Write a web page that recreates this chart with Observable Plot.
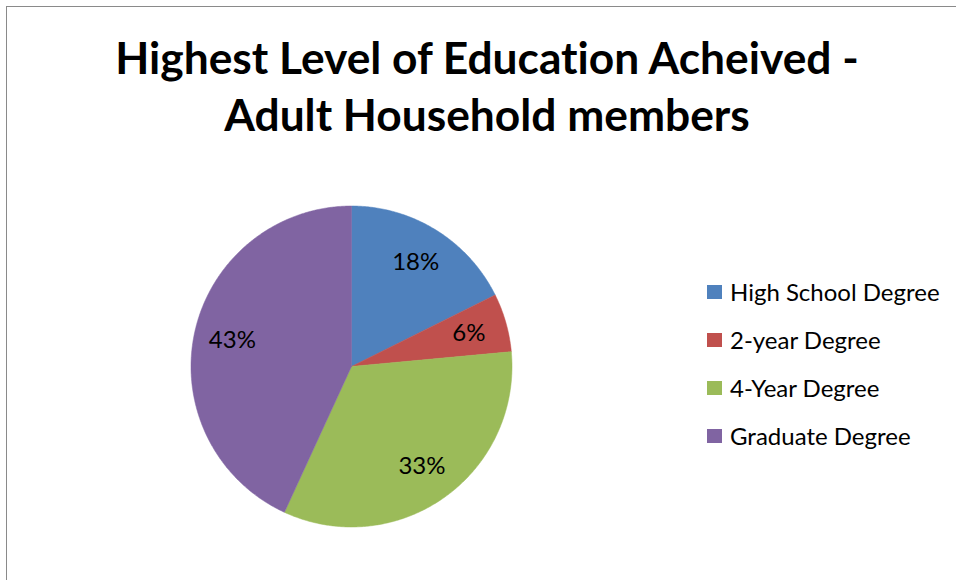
<!DOCTYPE html>
<html><head><meta charset="utf-8">
<script src="https://cdn.jsdelivr.net/npm/d3@7"></script>
<script src="https://cdn.jsdelivr.net/npm/@observablehq/plot@0.6"></script>
<style>
body{margin:0;background:#fff;}
#chart{position:relative;width:956px;height:580px;overflow:hidden;font-family:Lato, "Open Sans", sans-serif;color:#000;background:#fff;font-variant-ligatures:none;}
#frame{position:absolute;left:6px;top:6px;width:1000px;height:1000px;border:1.5px solid #8a8a8a;}
#title{position:absolute;left:7px;width:960px;top:27.5px;text-align:center;font-weight:bold;font-size:44.3px;line-height:57px;margin:0;}
#pie{position:absolute;left:185.5px;top:200.5px;}
#legend{position:absolute;left:707px;top:268.4px;}
.row{display:flex;align-items:center;height:48px;font-size:24px;line-height:48px;white-space:nowrap;}
.sw{width:15px;height:14px;margin-right:8px;}
</style>
</head><body>
<div id="chart">
  <div id="frame"></div>
  <div id="title"></div>
  <div id="pie"></div>
  <div id="legend"></div>
</div>
<script>
// Data
const categories = ["High School Degree", "2-year Degree", "4-Year Degree", "Graduate Degree"];
const counts = [9, 3, 17, 22];
const titleLines = ["Highest Level of Education Acheived -", "Adult Household members"];
// Styles
const colors = ["#4F81BD", "#C0504D", "#9BBB59", "#8064A2"];

const total = d3.sum(counts);
const arcs = d3.pie().sort(null).value(d => d)(counts);

const pts = [];
arcs.forEach((a, i) => {
  const cat = categories[i];
  pts.push({x: 0, y: 0, cat});
  const n = Math.max(2, Math.ceil((a.endAngle - a.startAngle) / (Math.PI / 360)));
  for (let k = 0; k <= n; k++) {
    const t = a.startAngle + (a.endAngle - a.startAngle) * k / n;
    pts.push({x: Math.sin(t), y: Math.cos(t), cat});
  }
  pts.push({x: 0, y: 0, cat});
});

const labelR = 0.76;
const labels = arcs.map((a, i) => {
  const m = (a.startAngle + a.endAngle) / 2;
  return {x: labelR * Math.sin(m), y: labelR * Math.cos(m), text: Math.round(counts[i] / total * 100) + "%"};
});

const R = 165 / 160.5;
const plot = Plot.plot({
  width: 330, height: 330, margin: 0,
  style: {fontFamily: "Lato, 'Open Sans', sans-serif", background: "transparent"},
  x: {domain: [-R, R], axis: null},
  y: {domain: [-R, R], axis: null},
  color: {domain: categories, range: colors},
  marks: [
    Plot.line(pts, {x: "x", y: "y", z: "cat", fill: "cat", stroke: "cat", strokeWidth: 0.5}),
    Plot.text(labels, {x: "x", y: "y", text: "text", fontSize: 24, fill: "black"})
  ]
});
document.getElementById("pie").appendChild(plot);

const title = document.getElementById("title");
titleLines.forEach(t => { const d = document.createElement("div"); d.textContent = t; title.appendChild(d); });

const legend = document.getElementById("legend");
categories.forEach((c, i) => {
  const row = document.createElement("div"); row.className = "row";
  const sw = document.createElement("div"); sw.className = "sw"; sw.style.background = colors[i];
  const tx = document.createElement("span"); tx.textContent = c;
  row.appendChild(sw); row.appendChild(tx); legend.appendChild(row);
});
</script>
</body></html>
